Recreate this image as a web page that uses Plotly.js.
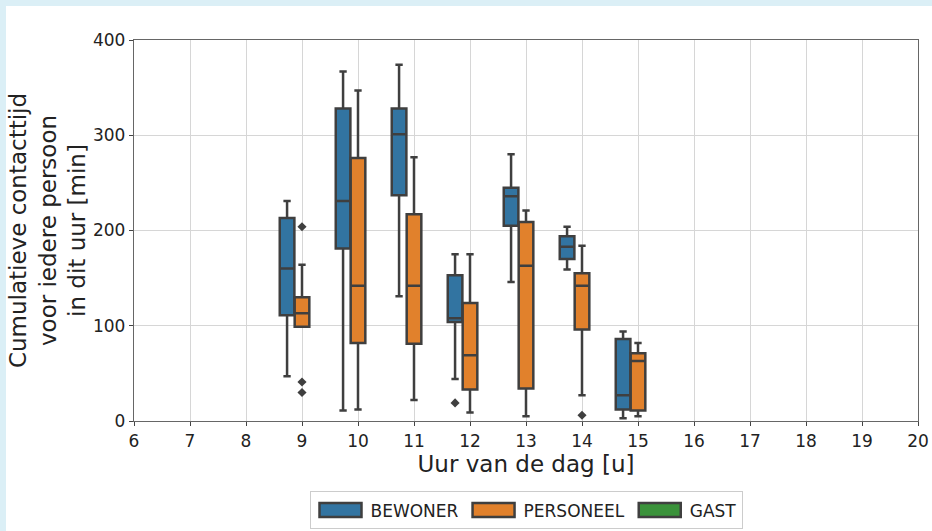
<!DOCTYPE html>
<html>
<head>
<meta charset="utf-8">
<script src="https://cdn.plot.ly/plotly-3.0.1.min.js"></script>
<style>
  html, body { margin: 0; padding: 0; background: #ffffff; }
  #wrap { width: 932px; height: 531px; position: relative; background: #ffffff; overflow: hidden; }
  #bandTop { position: absolute; left: 0; top: 0; width: 932px; height: 6px; background: #dbeff6; }
  #bandLeft { position: absolute; left: 0; top: 0; width: 6px; height: 531px; background: #dbeff6; }
  #chart { position: absolute; left: 0; top: 0; width: 932px; height: 531px; }
</style>
</head>
<body>
<div id="wrap">
  <div id="chart"></div>
  <div id="bandTop"></div>
  <div id="bandLeft"></div>
</div>
<script>
// Hours of the day (categories on the x axis)
const hours = [9, 10, 11, 12, 13, 14, 15];
const seriesNames = ["BEWONER", "PERSONEEL", "GAST"];
const xTicks = [6, 7, 8, 9, 10, 11, 12, 13, 14, 15, 16, 17, 18, 19, 20];
const yTicks = [0, 100, 200, 300, 400];

// BEWONER box statistics (minutes)
const bewonerLower  = [47, 11, 131, 44, 146, 159, 3];
const bewonerQ1     = [111, 181, 237, 104, 205, 170, 12];
const bewonerMedian = [160, 231, 301, 108, 236, 183, 27];
const bewonerQ3     = [213, 328, 328, 153, 245, 194, 86];
const bewonerUpper  = [231, 367, 374, 175, 280, 204, 94];
const bewonerOutlierHours = [12];
const bewonerOutliers     = [19];

// PERSONEEL box statistics (minutes)
const personeelLower  = [99, 12, 22, 9, 5, 27, 5];
const personeelQ1     = [99, 82, 81, 33, 34, 96, 11];
const personeelMedian = [113, 142, 142, 69, 163, 142, 63];
const personeelQ3     = [130, 276, 217, 124, 209, 155, 71];
const personeelUpper  = [164, 347, 277, 175, 221, 184, 82];
const personeelOutlierHours = [9, 9, 9, 14];
const personeelOutliers     = [204, 41, 30, 6];

// GAST: no observations in this period (null = no value)
const gastHours  = [null];
const gastQ1     = [null];
const gastMedian = [null];
const gastQ3     = [null];

const colors = ["#3274a1", "#e1812c", "#3a923a"];
const edge = "#3f3f3f";
const nHue = 3;
const groupWidth = 0.8;
const hueWidth = groupWidth / nHue;
function off(i) { return (i - (nHue - 1) / 2) * hueWidth; }

function boxTrace(idx, hrs, lo, q1, med, q3, up) {
  const t = {
    type: "box",
    name: seriesNames[idx],
    x: hrs.map(h => h === null ? null : h + off(idx)),
    q1: q1, median: med, q3: q3,
    boxpoints: false,
    width: hueWidth * 0.98,
    whiskerwidth: 0.5,
    fillcolor: colors[idx],
    line: { color: edge, width: 2.5 },
    marker: { color: colors[idx] },
    hoverinfo: "skip"
  };
  if (lo) t.lowerfence = lo;
  if (up) t.upperfence = up;
  return t;
}

function outlierTrace(idx, hrs, vals) {
  return {
    type: "scatter",
    mode: "markers",
    x: hrs.map(h => h + off(idx)),
    y: vals,
    showlegend: false,
    marker: { symbol: "diamond", size: 7, color: edge },
    hoverinfo: "skip"
  };
}

const data = [
  boxTrace(0, hours, bewonerLower, bewonerQ1, bewonerMedian, bewonerQ3, bewonerUpper),
  boxTrace(1, hours, personeelLower, personeelQ1, personeelMedian, personeelQ3, personeelUpper),
  boxTrace(2, gastHours, null, gastQ1, gastMedian, gastQ3, null),
  outlierTrace(0, bewonerOutlierHours, bewonerOutliers),
  outlierTrace(1, personeelOutlierHours, personeelOutliers)
];

const layout = {
  width: 932, height: 531,
  paper_bgcolor: "#ffffff",
  plot_bgcolor: "#ffffff",
  margin: { l: 134, r: 14, t: 40, b: 110, autoexpand: false },
  font: { family: "DejaVu Sans, sans-serif", size: 17, color: "#222222" },
  boxmode: "overlay",
  showlegend: true,
  xaxis: {
    range: [6, 20],
    tickvals: xTicks,
    ticktext: xTicks.map(String),
    showgrid: true, gridcolor: "#d6d6d6", gridwidth: 1,
    zeroline: false,
    showline: true, mirror: true, linecolor: "#666666", linewidth: 1.2,
    ticks: "outside", ticklen: 4, tickcolor: "#444444",
    tickfont: { size: 17, color: "#222222" },
    title: { text: "Uur van de dag [u]", font: { size: 23, color: "#222222" }, standoff: 4 }
  },
  yaxis: {
    range: [0, 400],
    tickvals: yTicks,
    showgrid: true, gridcolor: "#d6d6d6", gridwidth: 1,
    zeroline: false,
    showline: true, mirror: true, linecolor: "#666666", linewidth: 1.2,
    ticks: "outside", ticklen: 4, tickcolor: "#444444",
    tickfont: { size: 17, color: "#222222" },
    title: { text: "Cumulatieve contacttijd<br>voor iedere persoon<br>in dit uur [min]", font: { size: 23, color: "#222222" }, standoff: 0 }
  },
  legend: {
    orientation: "h",
    x: 0.5, xanchor: "center",
    y: -0.185, yanchor: "top",
    bordercolor: "#cccccc", borderwidth: 1,
    bgcolor: "#ffffff",
    font: { size: 17, color: "#222222" },
    itemwidth: 50,
    traceorder: "normal"
  }
};

Plotly.newPlot("chart", data, layout, { displayModeBar: false, staticPlot: true }).then(function (gd) {
  // widen the legend swatches to match the reference's rectangular handles
  gd.querySelectorAll(".legend path.legendbox").forEach(function (p) {
    p.setAttribute("d", "M21,7H-21V-7H21Z");
  });
});
</script>
</body>
</html>
